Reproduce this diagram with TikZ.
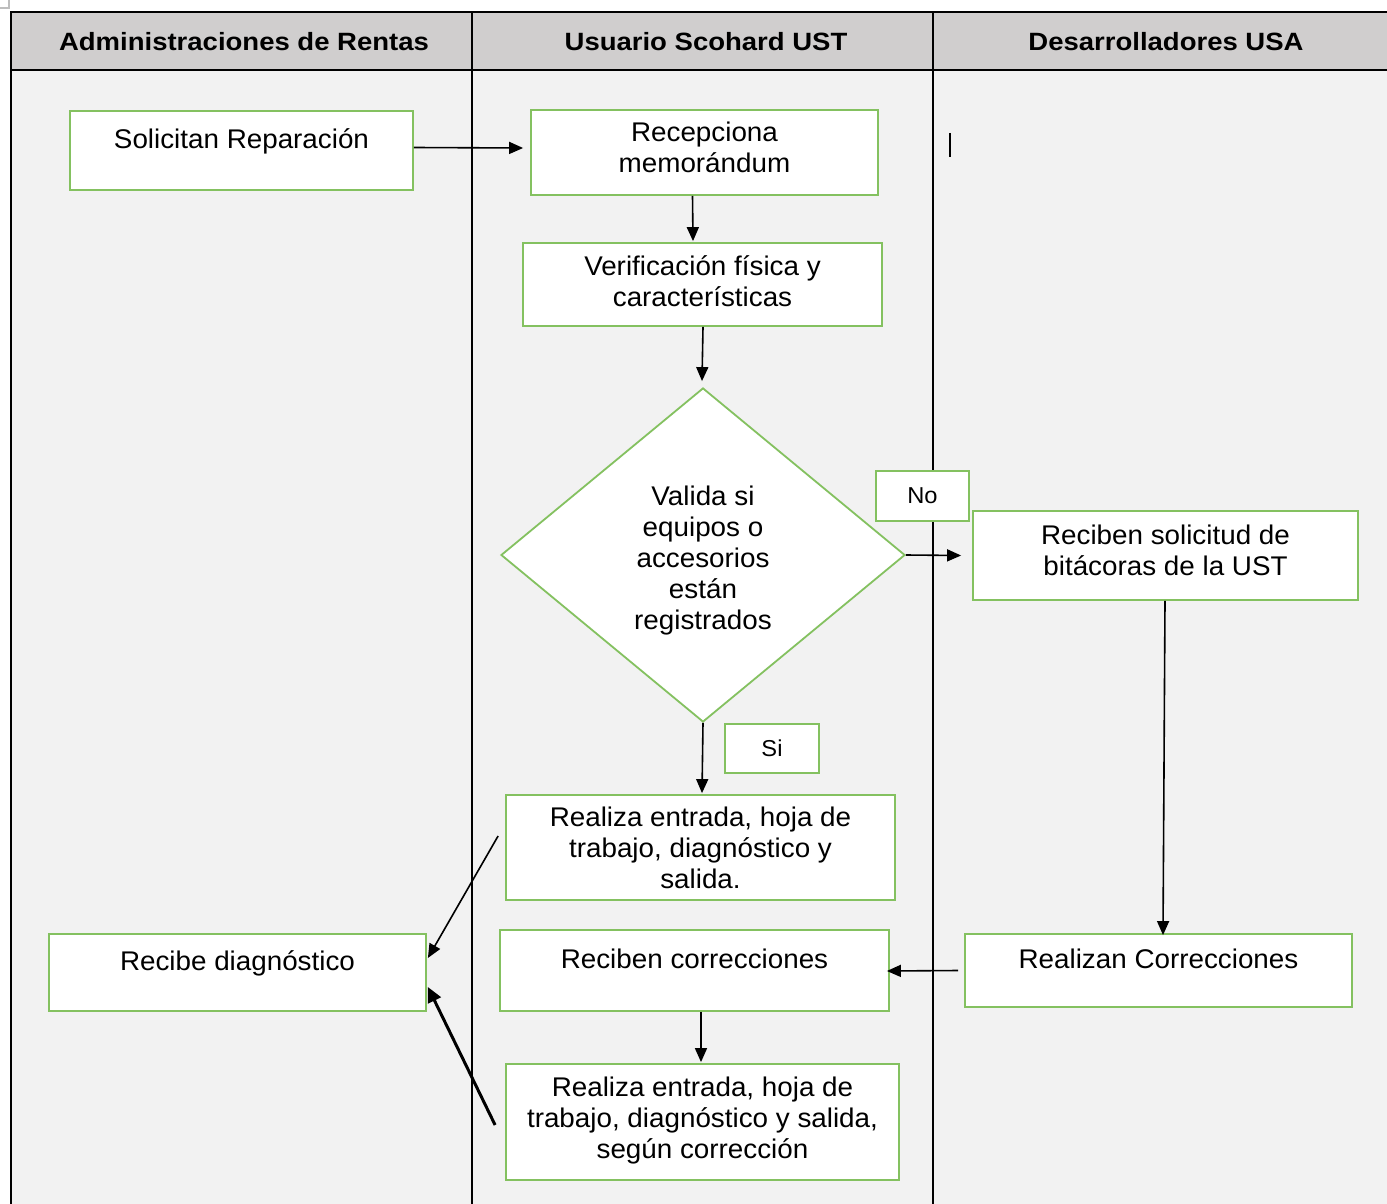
\documentclass[tikz,border=0pt]{standalone}
\usepackage{fontspec}
\setmainfont{Liberation Sans}[FakeStretch=1.03]
\newfontfamily\headfont{Liberation Sans}[FakeStretch=1.1]
\usetikzlibrary{arrows.meta,calc,shapes.geometric}

\definecolor{boxgreen}{RGB}{132,193,96}
\definecolor{headgray}{RGB}{208,206,206}
\definecolor{lanegray}{RGB}{242,242,242}
\definecolor{markgray}{RGB}{190,190,190}

\tikzset{
  lane/.style={line width=1pt, draw=black},
  boxtext/.style={align=center, font=\fontsize{13.5}{15.5}\selectfont},
  procbox/.style={draw=boxgreen, line width=0.9pt, fill=white, inner sep=0pt, boxtext},
  toptext/.style={text height=10pt, text depth=12pt},
  % box text raised (or lowered) by #1 from the centre of the box
  lifted/.style 2 args={label={[boxtext, yshift=#1]center:{#2}}},
  decbox/.style={procbox, shape=diamond},
  tagbox/.style={draw=boxgreen, line width=0.9pt, fill=white, inner sep=0pt,
    font=\fontsize{11.5}{13}\selectfont},
  head/.style={font=\headfont\bfseries\fontsize{12.5}{14}\selectfont},
  arr/.style={line width=0.8pt, -{Triangle[length=7pt,width=6pt]}},
  thickarr/.style={line width=1.5pt, -{Triangle[length=7.5pt,width=7pt]}}
}

\begin{document}
\begin{tikzpicture}[x=0.5pt,y=-0.5pt]
\useasboundingbox (0,0) rectangle (1387,1204);
\fill[white] (0,0) rectangle (1387,1204);

% corner mark at the top left
\draw[markgray, line width=0.8pt] (0,8) -- (9,8) -- (9,0);

% swimlane table
\fill[lanegray] (11,12) rectangle (1387,1204);
\fill[headgray] (11,12) rectangle (1387,70);
\draw[lane] (11,1204) -- (11,12) -- (1387,12);
\draw[lane] (11,70) -- (1387,70);
\draw[lane] (472,12) -- (472,1204);
\draw[lane] (933,12) -- (933,1204);

\node[head] (h1) at (244,42) {Administraciones de Rentas};
\node[head] (h2) at (706,42) {Usuario Scohard UST};
\node[head] (h3) at (1166,42) {Desarrolladores USA};

% text cursor mark
\draw[line width=1pt] (950,133) -- (950,157);

% process boxes
\node[procbox, toptext, minimum width=171.5pt, minimum height=39.5pt] (sol) at (241.5,150.5) {Solicitan Reparación};
\node[procbox, minimum width=173.5pt, minimum height=42.5pt,
  lifted={2.75pt}{Recepciona\\memorándum}] (recm) at (704.5,152.5) {};
\node[procbox, minimum width=179.5pt, minimum height=41.5pt,
  lifted={1.75pt}{Verificación física y\\características}] (ver) at (702.5,284.5) {};
\node[decbox, minimum width=202pt, minimum height=167pt,
  lifted={-3pt}{Valida si\\equipos o\\accesorios\\están\\registrados}] (dia) at (703,555) {};
\node[tagbox, minimum width=46.5pt, minimum height=25pt] (no) at (922.5,496) {No};
\node[procbox, minimum width=192.5pt, minimum height=44.5pt,
  lifted={2.75pt}{Reciben solicitud de\\bitácoras de la UST}] (rsol) at (1165.5,555.5) {};
\node[tagbox, minimum width=47pt, minimum height=24.5pt] (si) at (772,748.5) {Si};
\node[procbox, minimum width=194.5pt, minimum height=52.5pt] (ent1) at (700.5,847.5) {Realiza entrada, hoja de\\trabajo, diagnóstico y\\salida.};
\node[procbox, toptext, minimum width=188.5pt, minimum height=38.5pt] (rdiag) at (237.5,972.5) {Recibe diagnóstico};
\node[procbox, toptext, minimum width=194.5pt, minimum height=40.5pt] (rcor) at (694.5,970.5) {Reciben correcciones};
\node[procbox, toptext, minimum width=193.5pt, minimum height=36.5pt] (hcor) at (1158.5,970.5) {Realizan Correcciones};
\node[procbox, minimum width=196.5pt, minimum height=58pt,
  lifted={0.75pt}{Realiza entrada, hoja de\\trabajo, diagnóstico y salida,\\según corrección}] (ent2) at (702.5,1122) {};

% connectors
\draw[arr] ($(sol.east)+(0,-3)$) -- ($(recm.west)+(-7,-4.5)$);
\draw[arr] ($(recm.south)+(-12,0)$) -- ($(ver.north)+(-9.5,-1)$);
\draw[arr] ($(ver.south)+(0.5,0)$) -- ($(dia.north)+(-1,-6)$);
\draw[arr] (dia.east) -- ($(rsol.west)+(-11,0)$);
\draw[arr] (dia.south) -- ($(ent1.north)+(1.5,-1)$);
\draw[arr] ($(rsol.south)+(-0.5,0)$) -- ($(hcor.north)+(4.5,2)$);
\draw[arr] ($(hcor.west)+(-6,0)$) -- ($(rcor.east)+(-3,0.5)$);
\draw[arr] ($(rcor.south)+(6.5,0)$) -- ($(ent2.north)+(-1.5,-1)$);
\draw[arr] ($(ent1.west)+(-7,-11.5)$) -- ($(rdiag.east)+(1,-14.5)$);
\draw[thickarr] ($(ent2.west)+(-10,3)$) -- ($(rdiag.east)+(1,14.5)$);
\end{tikzpicture}
\end{document}
